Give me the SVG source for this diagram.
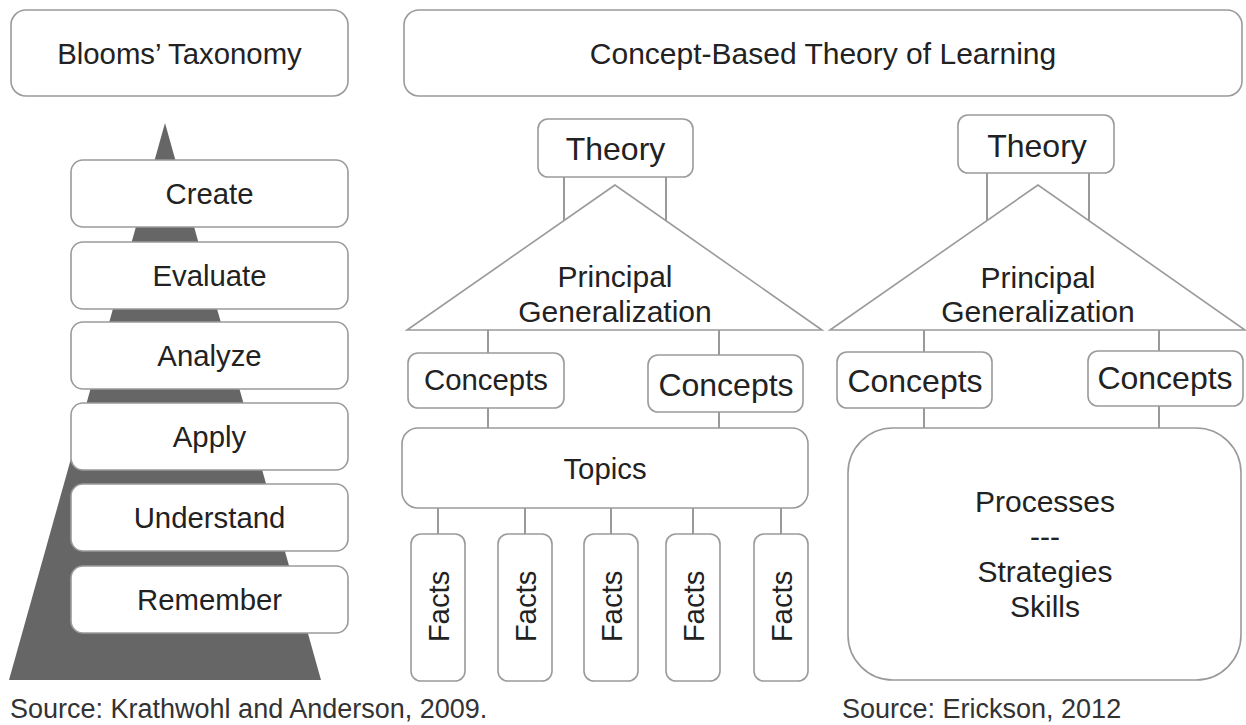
<svg xmlns="http://www.w3.org/2000/svg" width="1246" height="725" viewBox="0 0 1246 725">
<style>
.box{fill:#fff;stroke:#9a9a9a;stroke-width:1.6}
.ln{stroke:#808080;stroke-width:1.6;fill:none}
text{font-family:"Liberation Sans",Arial,sans-serif;fill:#222;text-anchor:middle}
.t29{font-size:29.33px}
.t30{font-size:30px}
.t32{font-size:32px}
.src{font-size:27px;text-anchor:start;fill:#333}
</style>
<rect width="1246" height="725" fill="#fff"/>

<g id="blooms-title"><rect class="box" x="11" y="10" width="337" height="86" rx="15"/><text class="t29" x="179.5" y="63.5">Blooms’ Taxonomy</text></g>
<g id="concept-title"><rect class="box" x="404" y="10" width="838" height="86" rx="15"/><text class="t30" x="823" y="63.5">Concept-Based Theory of Learning</text></g>

<g id="pyramid"><polygon points="165,123 9,680 321,680" fill="#666"/></g>
<g id="create"><rect class="box" x="71" y="160" width="277" height="67" rx="12"/><text class="t29" x="209.5" y="204">Create</text></g>
<g id="evaluate"><rect class="box" x="71" y="242" width="277" height="67" rx="12"/><text class="t29" x="209.5" y="286">Evaluate</text></g>
<g id="analyze"><rect class="box" x="71" y="322" width="277" height="67" rx="12"/><text class="t29" x="209.5" y="366">Analyze</text></g>
<g id="apply"><rect class="box" x="71" y="403" width="277" height="67" rx="12"/><text class="t29" x="209.5" y="447">Apply</text></g>
<g id="understand"><rect class="box" x="71" y="484" width="277" height="67" rx="12"/><text class="t29" x="209.5" y="528">Understand</text></g>
<g id="remember"><rect class="box" x="71" y="566" width="277" height="67" rx="12"/><text class="t29" x="209.5" y="610">Remember</text></g>

<g id="connectors">
<path class="ln" d="M564,177V221M666,177V221M488,330V353M719,330V355M488,408V428M719,412V428M438,508V534M525,508V534M611,508V534M693,508V534M781,508V534"/>
<path class="ln" d="M987,173V221M1089,173V221M924,330V352M1159,330V351M924,408V428M1159,406V428"/>
</g>

<g id="theory1"><rect class="box" x="538" y="119" width="155" height="58" rx="10"/><text class="t32" x="615.5" y="160">Theory</text></g>
<g id="principal1"><polygon class="box" points="615,185 407,330 822,330"/><text class="t30" x="615" y="287">Principal</text><text class="t30" x="615" y="322">Generalization</text></g>
<g id="concepts1a"><rect class="box" x="408" y="353" width="156" height="55" rx="10"/><text class="t29" x="486" y="390">Concepts</text></g>
<g id="concepts1b"><rect class="box" x="648" y="355" width="155" height="57" rx="10"/><text class="t32" x="726" y="396">Concepts</text></g>
<g id="topics"><rect class="box" x="402" y="428" width="406" height="80" rx="16"/><text class="t29" x="605" y="479">Topics</text></g>
<g id="facts1"><rect class="box" x="411" y="534" width="54" height="147" rx="10"/><text class="t29" transform="translate(438,606.5) rotate(-90)" y="10.5">Facts</text></g>
<g id="facts2"><rect class="box" x="498" y="534" width="54" height="147" rx="10"/><text class="t29" transform="translate(525,606.5) rotate(-90)" y="10.5">Facts</text></g>
<g id="facts3"><rect class="box" x="584" y="534" width="54" height="147" rx="10"/><text class="t29" transform="translate(611,606.5) rotate(-90)" y="10.5">Facts</text></g>
<g id="facts4"><rect class="box" x="666" y="534" width="54" height="147" rx="10"/><text class="t29" transform="translate(693,606.5) rotate(-90)" y="10.5">Facts</text></g>
<g id="facts5"><rect class="box" x="754" y="534" width="54" height="147" rx="10"/><text class="t29" transform="translate(781,606.5) rotate(-90)" y="10.5">Facts</text></g>

<g id="theory2"><rect class="box" x="958" y="115" width="156" height="58" rx="10"/><text class="t32" x="1037" y="157">Theory</text></g>
<g id="principal2"><polygon class="box" points="1038,185 830,330 1245,330"/><text class="t30" x="1038" y="288">Principal</text><text class="t30" x="1038" y="322">Generalization</text></g>
<g id="concepts2a"><rect class="box" x="837" y="352" width="155" height="56" rx="10"/><text class="t32" x="915" y="392">Concepts</text></g>
<g id="concepts2b"><rect class="box" x="1088" y="351" width="155" height="55" rx="10"/><text class="t32" x="1165" y="389">Concepts</text></g>
<g id="processes"><rect class="box" x="848" y="428" width="393" height="252" rx="45"/>
<text class="t30" x="1045" y="512">Processes</text>
<text class="t30" x="1045" y="547">---</text>
<text class="t30" x="1045" y="582">Strategies</text>
<text class="t30" x="1045" y="617">Skills</text></g>

<g id="sources">
<text class="src" x="10" y="718">Source: Krathwohl and Anderson, 2009.</text>
<text class="src" x="842" y="718">Source: Erickson, 2012</text>
</g>
</svg>
